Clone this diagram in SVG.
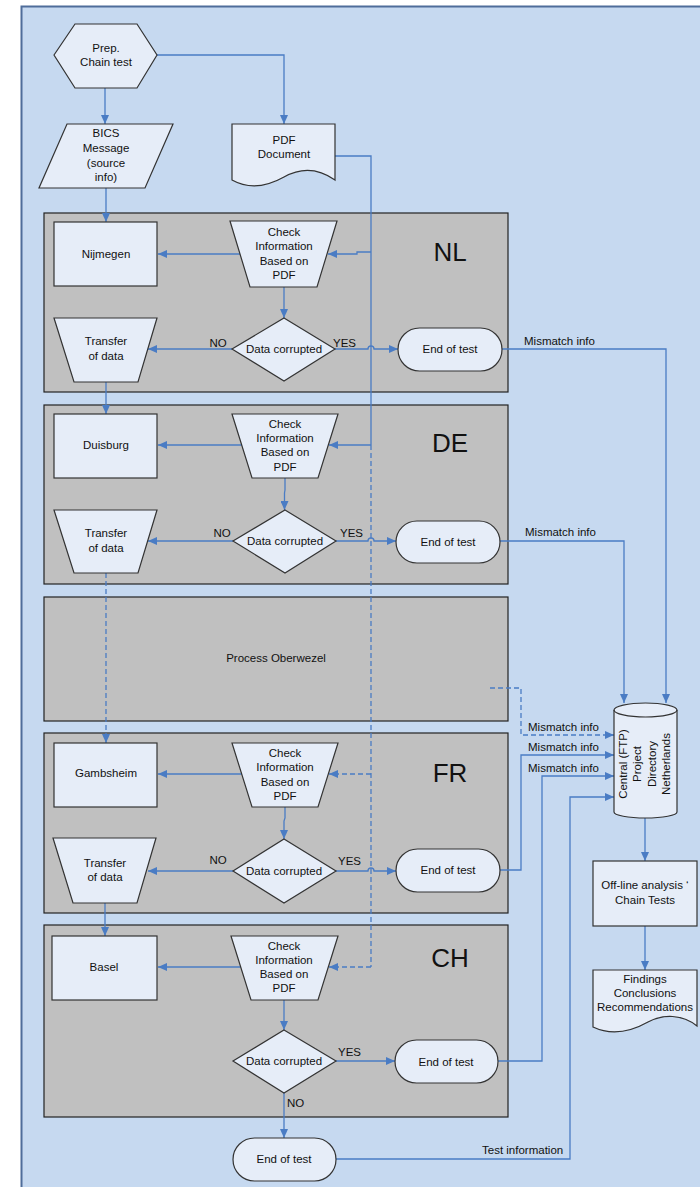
<svg xmlns="http://www.w3.org/2000/svg" width="700" height="1187" viewBox="0 0 700 1187">
<defs>
<marker id="ah" markerUnits="userSpaceOnUse" markerWidth="9" markerHeight="8" refX="9" refY="4" orient="auto">
<path d="M0,0 L9,4 L0,8 z" fill="#4A7CC4"/>
</marker>
<style>
text{font-family:"Liberation Sans",Arial,sans-serif;font-size:11.5px;fill:#111}
.c{text-anchor:middle}
.big{font-size:26px;text-anchor:middle}
.n{fill:#E6EDF8;stroke:#333;stroke-width:1.2}
.p{fill:#C0C0C0;stroke:#222;stroke-width:1.2}
.l{fill:none;stroke:#4A7CC4;stroke-width:1.3}
.a{marker-end:url(#ah)}
.d{stroke-dasharray:5,3}
</style>
</defs>
<rect x="0" y="0" width="700" height="1187" fill="#fff"/>
<rect x="21.5" y="6.5" width="700" height="1200" fill="#C6D9F0" stroke="#4F6D9A" stroke-width="2"/>

<g id="panel-NL"><rect class="p" x="44" y="213" width="464" height="179"/><text class="big" x="450" y="261">NL</text></g>
<g id="panel-DE"><rect class="p" x="44" y="405" width="464" height="179"/><text class="big" x="450" y="452">DE</text></g>
<g id="panel-Oberwezel"><rect class="p" x="44" y="597" width="464" height="124"/><text class="c" x="276" y="662">Process Oberwezel</text></g>
<g id="panel-FR"><rect class="p" x="44" y="733" width="464" height="180"/><text class="big" x="450" y="782">FR</text></g>
<g id="panel-CH"><rect class="p" x="44" y="925" width="464" height="192"/><text class="big" x="450" y="967">CH</text></g>

<g id="connectors">
<path class="l a" d="M105,88 V124"/>
<path class="l a" d="M157,55 H284 V124"/>
<path class="l a" d="M106,188 V222"/>
<path class="l" d="M335,156 H371 V445"/>
<path class="l a" d="M371,252 H357 V254 H328"/>
<path class="l a" d="M371,445 H329"/>
<path class="l d" d="M371,445 V967"/>
<path class="l d a" d="M371,774 H329"/>
<path class="l d a" d="M371,967 H329"/>
<path class="l a" d="M240,254 H158"/>
<path class="l a" d="M284,287 V318"/>
<path class="l a" d="M232,349 H148"/>
<path class="l a" d="M335,349 H368 a3,3 0 0 1 6,0 H398"/>
<path class="l a" d="M502,349 H666 V703"/>
<path class="l a" d="M106,382 V414"/>
<path class="l a" d="M242,445 H158"/>
<path class="l a" d="M285,478 V490 L284.5,493 V510"/>
<path class="l a" d="M233,541 H148"/>
<path class="l a" d="M336,541 H368 a3,3 0 0 1 6,0 H396"/>
<path class="l a" d="M500,541 H624 V703"/>
<path class="l d a" d="M106,573 V743"/>
<path class="l d a" d="M490,688 H521 V735 H614"/>
<path class="l a" d="M242,774 H158"/>
<path class="l a" d="M285,807 V818 L284,821 V839"/>
<path class="l a" d="M233,871 H148"/>
<path class="l a" d="M336,871 H368 a3,3 0 0 1 6,0 H396"/>
<path class="l a" d="M500,870 H521 V755 H614"/>
<path class="l a" d="M105,903 V936"/>
<path class="l a" d="M241,967 H158"/>
<path class="l a" d="M284,1000 V1030"/>
<path class="l a" d="M336,1061 H395"/>
<path class="l a" d="M498,1061 H542 V776 H614"/>
<path class="l a" d="M284,1093 V1138"/>
<path class="l a" d="M336,1159 H570 V797 H614"/>
<path class="l a" d="M645,818 V861"/>
<path class="l a" d="M645,926 V970"/>
</g>

<g id="edge-labels">
<text x="524" y="345">Mismatch info</text>
<text x="525" y="536">Mismatch info</text>
<text x="528" y="731">Mismatch info</text>
<text x="528" y="751">Mismatch info</text>
<text x="528" y="772">Mismatch info</text>
<text x="482" y="1154">Test information</text>
<text class="c" x="218" y="347">NO</text>
<text x="333" y="347">YES</text>
<text class="c" x="222" y="537">NO</text>
<text x="340" y="537">YES</text>
<text class="c" x="218" y="864">NO</text>
<text x="338" y="865">YES</text>
<text x="338" y="1056">YES</text>
<text x="287" y="1107">NO</text>
</g>

<g id="prep"><polygon class="n" points="54,55 75,24 137,24 157,55 137,88 75,88"/><text class="c" x="106" y="52">Prep.</text><text class="c" x="106" y="66">Chain test</text></g>
<g id="bics"><polygon class="n" points="67,124 173,124 145,188 39,188"/><text class="c" x="106" y="137">BICS</text><text class="c" x="106" y="152">Message</text><text class="c" x="106" y="167">(source</text><text class="c" x="106" y="181">info)</text></g>
<g id="pdf"><path class="n" d="M232,124 H335 V180 C318,168 300,168 284,177 C268,186 250,190 232,180 Z"/><text class="c" x="284" y="144">PDF</text><text class="c" x="284" y="158">Document</text></g>

<g id="nijmegen"><rect class="n" x="54" y="222" width="103" height="64"/><text class="c" x="106" y="258">Nijmegen</text></g>
<g id="check-NL"><polygon class="n" points="230,221 337,221 317,287 250,287"/><text class="c" x="284" y="236">Check</text><text class="c" x="284" y="250">Information</text><text class="c" x="284" y="265">Based on</text><text class="c" x="284" y="279">PDF</text></g>
<g id="decision-NL"><polygon class="n" points="284,318 335,349 284,381 232,349"/><text class="c" x="284" y="353">Data corrupted</text></g>
<g id="transfer-NL"><polygon class="n" points="54,318 157,318 138,382 74,382"/><text class="c" x="106" y="345">Transfer</text><text class="c" x="106" y="360">of data</text></g>
<g id="end-NL"><rect class="n" x="398" y="328" width="104" height="43" rx="21.5"/><text class="c" x="450" y="353">End of test</text></g>

<g id="duisburg"><rect class="n" x="54" y="414" width="103" height="64"/><text class="c" x="106" y="449">Duisburg</text></g>
<g id="check-DE"><polygon class="n" points="232,414 338,414 318,478 252,478"/><text class="c" x="285" y="428">Check</text><text class="c" x="285" y="442">Information</text><text class="c" x="285" y="456">Based on</text><text class="c" x="285" y="471">PDF</text></g>
<g id="decision-DE"><polygon class="n" points="285,510 336,541 285,573 233,541"/><text class="c" x="285" y="545">Data corrupted</text></g>
<g id="transfer-DE"><polygon class="n" points="54,510 157,510 138,573 74,573"/><text class="c" x="106" y="537">Transfer</text><text class="c" x="106" y="552">of data</text></g>
<g id="end-DE"><rect class="n" x="396" y="521" width="104" height="42" rx="21"/><text class="c" x="448" y="546">End of test</text></g>

<g id="gambsheim"><rect class="n" x="54" y="743" width="103" height="64"/><text class="c" x="106" y="777">Gambsheim</text></g>
<g id="check-FR"><polygon class="n" points="232,743 338,743 318,807 252,807"/><text class="c" x="285" y="757">Check</text><text class="c" x="285" y="771">Information</text><text class="c" x="285" y="786">Based on</text><text class="c" x="285" y="800">PDF</text></g>
<g id="decision-FR"><polygon class="n" points="284,839 336,871 284,903 233,871"/><text class="c" x="284" y="875">Data corrupted</text></g>
<g id="transfer-FR"><polygon class="n" points="53,838 156,838 137,903 73,903"/><text class="c" x="105" y="867">Transfer</text><text class="c" x="105" y="881">of data</text></g>
<g id="end-FR"><rect class="n" x="396" y="849" width="104" height="43" rx="21.5"/><text class="c" x="448" y="874">End of test</text></g>

<g id="basel"><rect class="n" x="52" y="936" width="105" height="64"/><text class="c" x="104" y="971">Basel</text></g>
<g id="check-CH"><polygon class="n" points="231,936 338,936 318,1000 251,1000"/><text class="c" x="284" y="950">Check</text><text class="c" x="284" y="964">Information</text><text class="c" x="284" y="978">Based on</text><text class="c" x="284" y="992">PDF</text></g>
<g id="decision-CH"><polygon class="n" points="284,1030 336,1061 284,1093 233,1061"/><text class="c" x="284" y="1065">Data corrupted</text></g>
<g id="end-CH"><rect class="n" x="395" y="1040" width="103" height="43" rx="21.5"/><text class="c" x="446" y="1066">End of test</text></g>
<g id="end-final"><rect class="n" x="233" y="1138" width="103" height="43" rx="21.5"/><text class="c" x="284" y="1163">End of test</text></g>

<g id="central-ftp">
<path class="n" d="M614,710 A31.5,7 0 0 1 677,710 V812 A31.5,6 0 0 1 614,812 Z"/>
<path fill="none" stroke="#333" stroke-width="1.2" d="M614,710 A31.5,7 0 0 0 677,710"/>
<text class="c" transform="translate(627,764) rotate(-90)">Central (FTP)</text>
<text class="c" transform="translate(641,764) rotate(-90)">Project</text>
<text class="c" transform="translate(656,764) rotate(-90)">Directory</text>
<text class="c" transform="translate(670,764) rotate(-90)">Netherlands</text>
</g>
<g id="offline"><rect class="n" x="593" y="861" width="104" height="65"/><text class="c" x="645" y="889">Off-line analysis ‘</text><text class="c" x="645" y="904">Chain Tests</text></g>
<g id="findings"><path class="n" d="M593,970 H697 V1026 C682,1014 663,1014 648,1022 C632,1031 612,1036 593,1027 Z"/><text class="c" x="645" y="983">Findings</text><text class="c" x="645" y="997">Conclusions</text><text class="c" x="645" y="1011">Recommendations</text></g>
</svg>
